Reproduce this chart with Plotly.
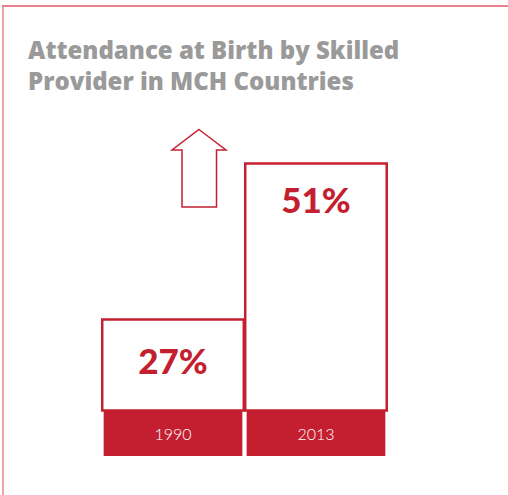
import plotly.graph_objects as go

# values
years = ["1990", "2013"]
coverage = [27, 51]
value_labels = ["27%", "51%"]
title_text = "Attendance at Birth by Skilled<br>Provider in MCH Countries"

RED = "#c41f30"
BORDER = "#e8808e"
W, H = 508, 495

# axis scale: 6.5 px per percentage point, 0 sits at the bottom edge
y_top = H / 6.5
band_lo, band_hi = 6, 13      # red year band sits under the outline bars
label_drop = [7.0, 6.3]       # how far below the bar top each % label sits


def px(x, y):
    # pixel -> paper coords, for decoration only
    return x / W, 1 - y / H


fig = go.Figure()

# outlined bars from the band up to the value
fig.add_trace(go.Bar(
    x=years,
    y=[v - band_hi for v in coverage],
    base=band_hi,
    width=0.99,
    marker=dict(color="rgba(0,0,0,0)", line=dict(color=RED, width=2.5)),
    hoverinfo="skip",
))

# filled year band
fig.add_trace(go.Bar(
    x=years,
    y=[band_hi - band_lo] * len(years),
    base=band_lo,
    width=0.97,
    marker=dict(color=RED, line=dict(width=0)),
    text=years,
    textposition="inside",
    insidetextanchor="middle",
    textangle=0,
    textfont=dict(color="white", size=16, family="Lato", weight=300),
    hoverinfo="skip",
))

# percentage labels inside the bars
fig.add_trace(go.Scatter(
    x=years,
    y=[v - d for v, d in zip(coverage, label_drop)],
    mode="text",
    text=value_labels,
    textposition="middle center",
    textfont=dict(family="Lato", size=35, color=RED, weight=900),
    hoverinfo="skip",
))

# up arrow (decoration)
pts = [(199, 129.5), (226, 150), (216.5, 150), (216.5, 207),
       (182, 207), (182, 150), (172, 150)]
path = "M " + " L ".join("%.4f,%.4f" % px(a, b) for a, b in pts) + " Z"
fig.add_shape(type="path", path=path, xref="paper", yref="paper",
              line=dict(color=RED, width=1.5), fillcolor="white")

# frame lines top and left
x0, y0 = px(2, 6)
x1, _ = px(508, 6)
fig.add_shape(type="line", xref="paper", yref="paper", x0=x0, y0=y0, x1=x1, y1=y0,
              line=dict(color=BORDER, width=2))
lx, _ = px(3, 6)
fig.add_shape(type="line", xref="paper", yref="paper", x0=lx, y0=y0, x1=lx, y1=0,
              line=dict(color=BORDER, width=1.5))

fig.update_layout(
    width=W, height=H,
    margin=dict(l=0, r=0, t=0, b=0),
    barmode="overlay",
    showlegend=False,
    plot_bgcolor="white",
    paper_bgcolor="white",
    title=dict(
        text=title_text,
        x=28 / W, xanchor="left", xref="container",
        y=1 - 59 / H, yanchor="top", yref="container",
        font=dict(family="Open Sans", size=24, color="#9a9a9a", weight=800),
    ),
    xaxis=dict(type="category", range=[-1.21, 2.343], visible=False, fixedrange=True),
    yaxis=dict(range=[0, y_top], visible=False, fixedrange=True),
)

# page has a default 8px body margin; drop it so the figure fills the window
fig.write_html("out.html", config={"displayModeBar": False},
               post_script="document.body.style.margin='0';")
